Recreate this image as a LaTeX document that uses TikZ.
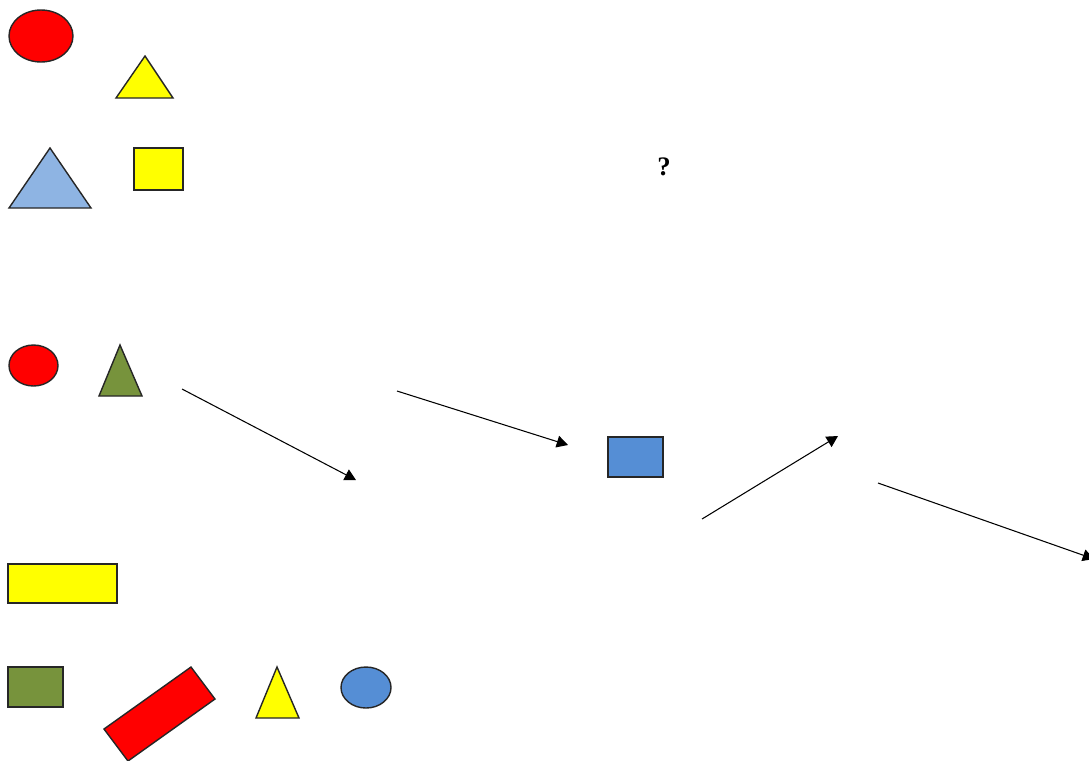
\documentclass[tikz,border=0pt]{standalone}
\usepackage{fontspec}
\setmainfont{Liberation Serif}
\usetikzlibrary{arrows.meta}
\definecolor{cred}{HTML}{FF0000}
\definecolor{cyel}{HTML}{FFFF00}
\definecolor{clblue}{HTML}{8EB4E3}
\definecolor{cgreen}{HTML}{77933C}
\definecolor{cblue}{HTML}{558ED5}
\tikzset{
  shp/.style={draw=black!85, line width=0.4pt, line join=miter},
  arr/.style={draw=black, line width=0.3pt, -{Triangle[length=3.2pt,width=3.4pt]}}
}
\begin{document}
\begin{tikzpicture}[x=0.01cm,y=-0.01cm]
\useasboundingbox (0,0) rectangle (1089,760);
% top group
\path[shp, fill=cred] (41,36) ellipse [x radius=32, y radius=26];
\path[shp, fill=cyel] (145,56) -- (173,98) -- (116,98) -- cycle;
\path[shp, fill=clblue] (50,148) -- (91,208) -- (9,208) -- cycle;
\path[shp, fill=cyel] (134,148) rectangle (183,190);
\node[font=\fontsize{7.6}{8}\selectfont\bfseries, inner sep=0pt] (q) at (664,167) {?};
% middle group
\path[shp, fill=cred] (33.5,365.5) ellipse [x radius=24.5, y radius=20.5];
\path[shp, fill=cgreen] (120,345) -- (142,396) -- (99,396) -- cycle;
\path[shp, fill=cblue] (608,437) rectangle (663,477);
% arrows
\coordinate (a1s) at (182,389);
\coordinate (a1e) at (356,480);
\coordinate (a2s) at (397,391);
\coordinate (a2e) at (568,445);
\coordinate (a3s) at (702,519);
\coordinate (a3e) at (838,436);
\coordinate (a4s) at (878,483);
\coordinate (a4e) at (1094,559);
\draw[arr] (a1s) -- (a1e);
\draw[arr] (a2s) -- (a2e);
\draw[arr] (a3s) -- (a3e);
\draw[arr] (a4s) -- (a4e);
% bottom group
\path[shp, fill=cyel] (8,564) rectangle (117,603);
\path[shp, fill=cgreen] (8,667) rectangle (63,707);
\path[shp, fill=cred] (104,729) -- (191,667) -- (215,699) -- (128,761) -- cycle;
\path[shp, fill=cyel] (277,667) -- (299,718) -- (256,718) -- cycle;
\path[shp, fill=cblue] (366,687.5) ellipse [x radius=25, y radius=20.5];
\end{tikzpicture}
\end{document}
